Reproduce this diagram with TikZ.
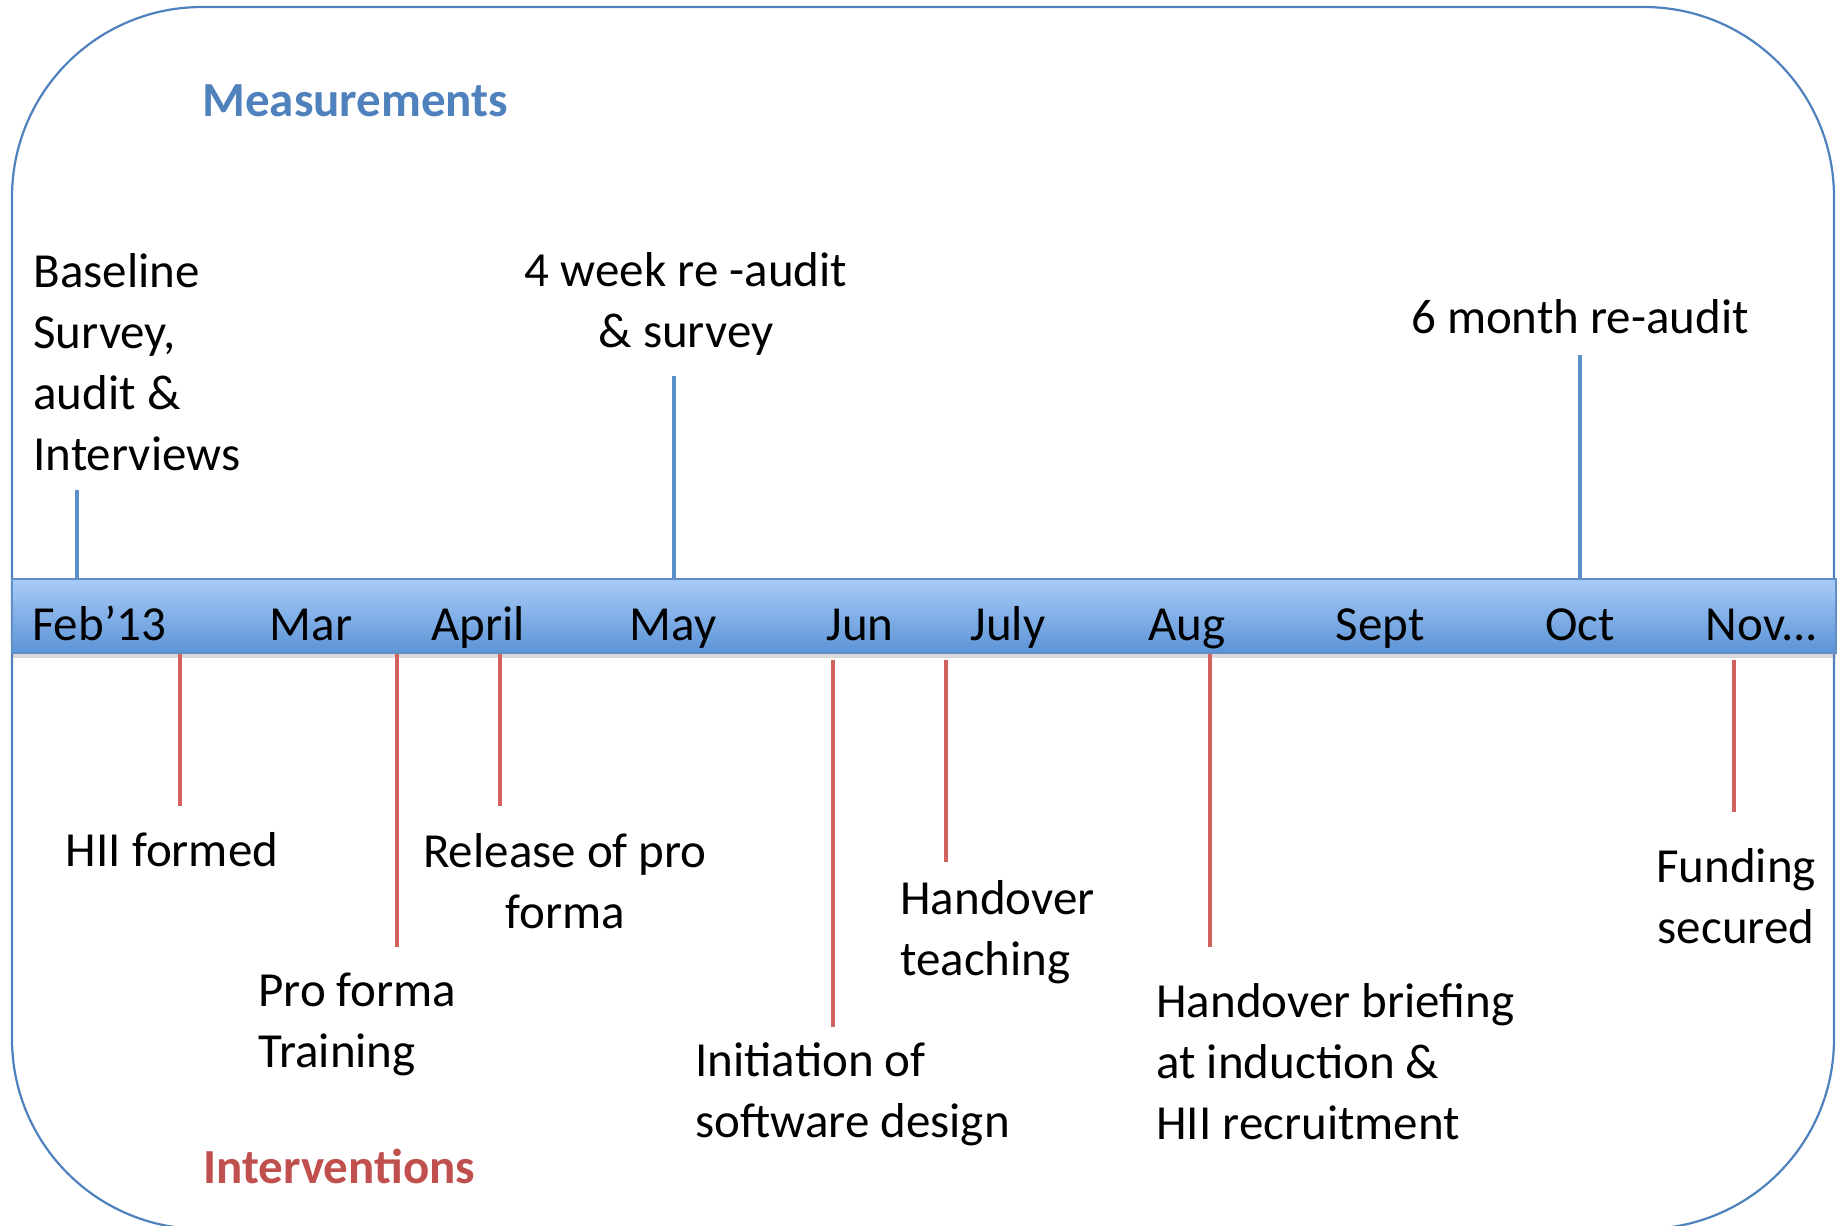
\documentclass[tikz,border=0pt]{standalone}
\usepackage{fontspec}
\setmainfont{Carlito}
\usepackage{tikz}
\usetikzlibrary{positioning}
\usetikzlibrary{shadows}
\definecolor{measblue}{HTML}{4F81BD}
\definecolor{intred}{HTML}{C0504D}
\definecolor{tickblue}{HTML}{5B8FC9}
\definecolor{tickred}{HTML}{D0625E}
\definecolor{bartop}{HTML}{A9CCF8}
\definecolor{barbot}{HTML}{5B93D6}

\begin{document}
\begin{tikzpicture}[x=0.5pt,y=-0.5pt,
	frame/.style={draw=measblue,line width=1.1pt,rounded corners=95pt},
	timebar/.style={rectangle,draw=measblue!90,line width=1pt,top color=bartop,bottom color=barbot,
		minimum width=912pt,minimum height=37pt,inner sep=0pt,
		drop shadow={opacity=0.3,shadow xshift=0pt,shadow yshift=-2.5pt}},
	month/.style={font=\fontsize{24.5}{30.5}\selectfont,inner sep=0pt,anchor=base},
	txt/.style={font=\fontsize{24.5}{30.5}\selectfont,inner sep=0pt,align=left},
	ctxt/.style={font=\fontsize{24.5}{30.5}\selectfont,inner sep=0pt,align=center},
	heading/.style={font=\fontsize{24.5}{30.5}\selectfont\bfseries,inner sep=0pt,anchor=west},
	mtick/.style={draw=tickblue,line width=2pt},
	itick/.style={draw=tickred,line width=2pt}
]
\useasboundingbox (0,0) rectangle (1838,1226);
\draw[frame] (12,7) rectangle (1834,1229);

% timeline bar
\node (bar) [timebar] at (924,616) {};

\node (feb) [month] at (99,640) {Feb’13};
\node (mar) [month] at (311,640) {Mar};
\node (apr) [month] at (478,640) {April};
\node (may) [month] at (673,640) {May};
\node (jun) [month] at (860,640) {Jun};
\node (jul) [month] at (1008,640) {July};
\node (aug) [month] at (1187,640) {Aug};
\node (sep) [month] at (1380,640) {Sept};
\node (oct) [month] at (1580,640) {Oct};
\node (nov) [month] at (1762,640) {Nov...};

% measurements
\node (meas) [heading,text=measblue] at (202,101) {Measurements};
\node (base) [txt,anchor=west] at (33,362) {Baseline\\Survey,\\audit \&\\Interviews};
\node (fourwk) [ctxt] at (686,304) {4 week re -audit\\\& survey};
\node (sixmo) [ctxt] at (1580,317) {6 month re-audit};

\coordinate (mA) at (77,490);
\coordinate (mB) at (674,376);
\coordinate (mC) at (1580,355);
\draw[mtick] (mA) -- (mA |- bar.north);
\draw[mtick] (mB) -- (mB |- bar.north);
\draw[mtick] (mC) -- (mC |- bar.north);

% interventions
\node (interv) [heading,text=intred] at (203,1166) {Interventions};
\node (hii) [ctxt] at (172,850) {HII formed};
\node (pro) [txt,anchor=west] at (258,1024) {Pro forma\\Training};
\node (rel) [ctxt] at (565,881) {Release of pro\\forma};
\node (init) [txt,anchor=west] at (695,1094) {Initiation of\\software design};
\node (hand) [txt,anchor=west] at (900,932) {Handover\\teaching};
\node (brief) [txt,anchor=west] at (1156,1062) {Handover briefing\\at induction \&\\HII recruitment};
\node (fund) [ctxt] at (1736,896) {Funding\\secured};

\coordinate (iA) at (180,806);
\coordinate (iB) at (397,947);
\coordinate (iC) at (500,806);
\coordinate (iD1) at (833,660);
\coordinate (iD2) at (833,1027);
\coordinate (iE1) at (946,660);
\coordinate (iE2) at (946,862);
\coordinate (iF) at (1210,947);
\coordinate (iG1) at (1734,660);
\coordinate (iG2) at (1734,812);
\draw[itick] (iA |- bar.south) -- (iA);
\draw[itick] (iB |- bar.south) -- (iB);
\draw[itick] (iC |- bar.south) -- (iC);
\draw[itick] (iD1) -- (iD2);
\draw[itick] (iE1) -- (iE2);
\draw[itick] (iF |- bar.south) -- (iF);
\draw[itick] (iG1) -- (iG2);
\end{tikzpicture}
\end{document}
